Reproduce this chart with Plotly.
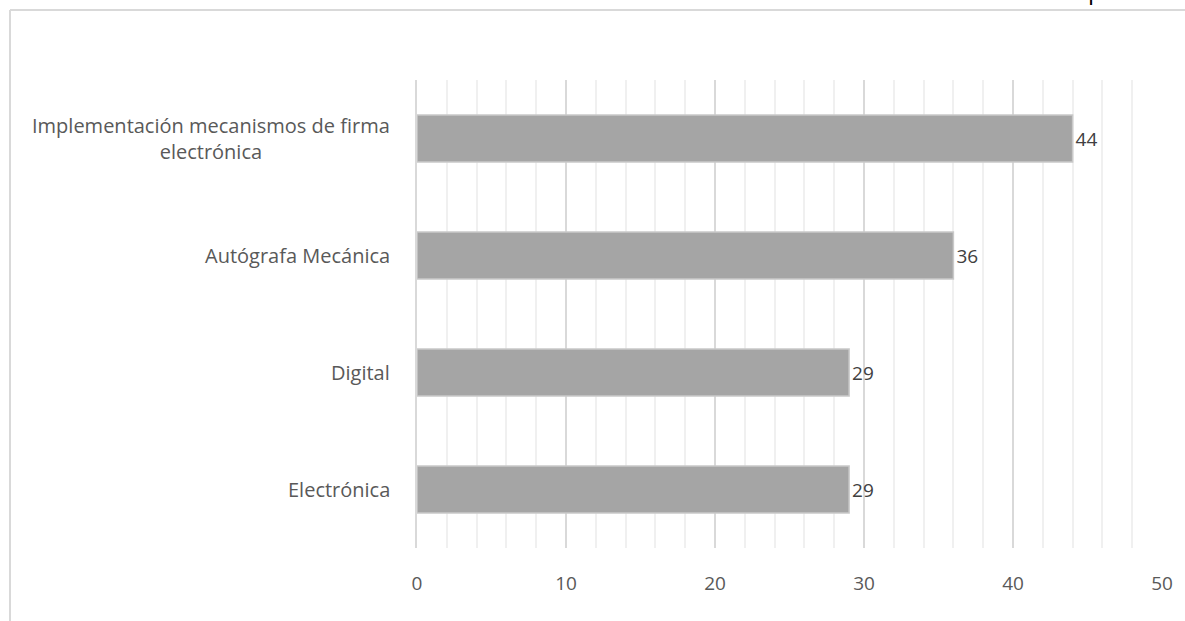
import plotly.graph_objects as go

categorias = ["Electrónica", "Digital", "Autógrafa Mecánica",
              "Implementación mecanismos de firma<br>electrónica"]
valores = [29, 29, 36, 44]
ticks_x = [0, 10, 20, 30, 40, 50]

W, H = 1185, 621
L, R, T, B = 417, 23, 80, 73
pw, ph = W - L - R, H - T - B


def px(x):
    return (x - L) / pw


def py(y):
    return (H - B - y) / ph


fuente = "Open Sans"

fig = go.Figure()
fig.add_trace(go.Bar(
    x=valores, y=categorias, orientation="h",
    marker=dict(color="#a5a5a5", line=dict(color="#c9c9c9", width=1.5)),
    width=0.4,
    text=valores, textposition="outside", cliponaxis=False,
    textfont=dict(family=fuente, size=19, color="#404040"),
    showlegend=False,
))

# etiquetas de categoría centradas (como en Excel)
for c in categorias:
    fig.add_annotation(x=px(392), xref="paper", y=c, yref="y", text=c,
                       showarrow=False, xanchor="right", align="center",
                       font=dict(family=fuente, size=20, color="#595959"))

# marco del área del gráfico
fig.add_shape(type="line", xref="paper", yref="paper",
              x0=px(10), x1=px(W + 5), y0=py(10), y1=py(10),
              line=dict(color="#d9d9d9", width=2))
fig.add_shape(type="line", xref="paper", yref="paper",
              x0=px(10), x1=px(10), y0=py(10), y1=py(H + 5),
              line=dict(color="#d9d9d9", width=2))

# resto del título recortado
fig.add_annotation(x=px(1095), xref="paper", y=py(8), yref="paper", text="p",
                   showarrow=False, xanchor="center", yanchor="bottom",
                   font=dict(family=fuente, size=24, color="#000000"))

fig.update_xaxes(range=[0, 50], tickvals=ticks_x, showgrid=True,
                 gridcolor="#d9d9d9", gridwidth=1.5, zeroline=False,
                 minor=dict(dtick=2, showgrid=True, gridcolor="#f0f0f0", gridwidth=1.5),
                 ticks="outside", ticklen=18, tickcolor="rgba(0,0,0,0)",
                 tickfont=dict(family=fuente, size=19, color="#595959"))
fig.update_yaxes(showticklabels=False, showgrid=False, zeroline=False,
                 showline=True, linecolor="#d9d9d9", linewidth=1.5)
fig.update_layout(
    width=W, height=H,
    margin=dict(l=L, r=R, t=T, b=B),
    plot_bgcolor="white", paper_bgcolor="white",
    bargap=0.6,
)

fig.write_html("out.html", config={"displayModeBar": False},
               post_script="document.body.style.margin='0';document.body.style.overflow='hidden';")
